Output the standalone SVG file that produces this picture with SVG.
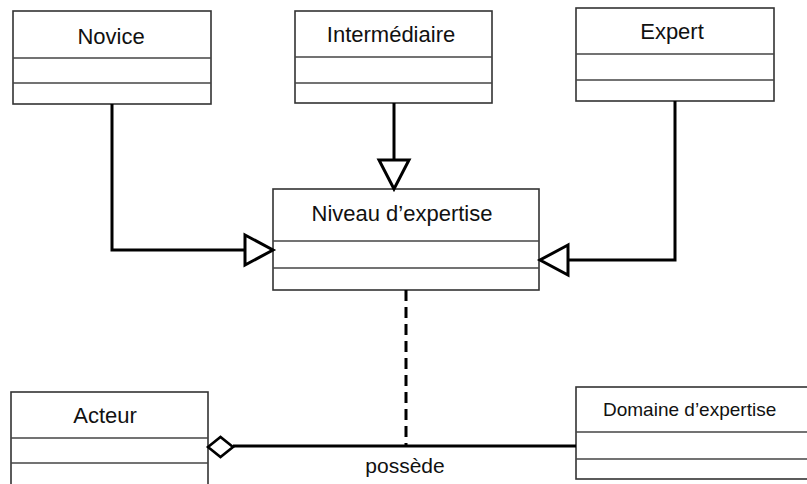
<svg xmlns="http://www.w3.org/2000/svg" width="807" height="484" viewBox="0 0 807 484">
<style>
.box{fill:#fff;stroke:#333;stroke-width:1.6}
.sep{stroke:#444;stroke-width:1.6}
.t{font-family:"Liberation Sans",Arial,sans-serif;font-size:22px;fill:#111;text-anchor:middle}
.conn{fill:none;stroke:#000;stroke-width:3}
.head{fill:#fff;stroke:#000;stroke-width:3;stroke-linejoin:miter}
</style>
<rect width="807" height="484" fill="#fff"/>
<g id="novice">
<rect class="box" x="13" y="11" width="198" height="93"/>
<line class="sep" x1="13" y1="58" x2="211" y2="58"/>
<line class="sep" x1="13" y1="83" x2="211" y2="83"/>
<text class="t" x="111" y="44">Novice</text>
</g>
<g id="intermediaire">
<rect class="box" x="295" y="11" width="197" height="92"/>
<line class="sep" x1="295" y1="57" x2="492" y2="57"/>
<line class="sep" x1="295" y1="83" x2="492" y2="83"/>
<text class="t" x="391" y="42">Intermédiaire</text>
</g>
<g id="expert">
<rect class="box" x="576" y="8" width="198" height="93"/>
<line class="sep" x1="576" y1="54" x2="774" y2="54"/>
<line class="sep" x1="576" y1="80" x2="774" y2="80"/>
<text class="t" x="672" y="39">Expert</text>
</g>
<g id="niveau">
<rect class="box" x="273" y="189" width="266" height="101"/>
<line class="sep" x1="273" y1="241" x2="539" y2="241"/>
<line class="sep" x1="273" y1="268" x2="539" y2="268"/>
<text class="t" x="402" y="221">Niveau d’expertise</text>
</g>
<g id="acteur">
<rect class="box" x="11" y="392" width="197" height="100"/>
<line class="sep" x1="11" y1="438" x2="208" y2="438"/>
<line class="sep" x1="11" y1="463" x2="208" y2="463"/>
<text class="t" x="105" y="423">Acteur</text>
</g>
<g id="domaine">
<rect class="box" x="576" y="387" width="240" height="92"/>
<line class="sep" x1="576" y1="432" x2="816" y2="432"/>
<line class="sep" x1="576" y1="459" x2="816" y2="459"/>
<text class="t" x="603" y="416" style="text-anchor:start;font-size:19px">Domaine d’expertise</text>
</g>
<g id="connectors">
<polyline class="conn" points="112,104 112,250 245,250"/>
<polygon class="head" points="245,235 273,250 245,265"/>
<line class="conn" x1="394" y1="103" x2="394" y2="160"/>
<polygon class="head" points="379,160 409,160 394,189"/>
<polyline class="conn" points="675,101 675,260 568,260"/>
<polygon class="head" points="568,245 540,260 568,275"/>
<line class="conn" x1="233" y1="446" x2="576" y2="446"/>
<polygon class="head" points="208,447 220.5,437 233,447 220.5,457" style="stroke-width:2.6"/>
<line class="conn" x1="406" y1="290" x2="406" y2="445" stroke-dasharray="11,6"/>
<text class="t" x="405" y="473" style="font-size:21px">possède</text>
</g>
</svg>
